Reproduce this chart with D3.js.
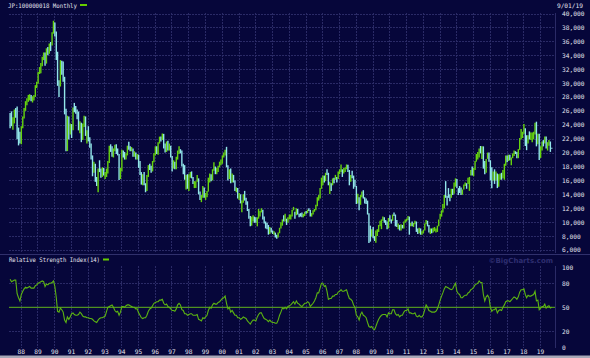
<!DOCTYPE html>
<html><head><meta charset="utf-8">
<script src="https://cdn.jsdelivr.net/npm/d3@7"></script>
<style>html,body{margin:0;padding:0;background:#06063a;}svg{display:block}</style>
</head><body><svg id="c" width="590" height="358"></svg>
<script>
// ---- data (monthly bars, May 1987 .. Sep 2019) ----
const startYear = 1987, startMonth = 4; // May 1987
const firstOpen = 25300;
const priceClose = [
24900,24176,24488,26029,26011,23329,22687,21564,
23719,24901,26260,27256,27418,27769,28095,27911,27923,28029,29579,30159,
31581,31985,32839,33714,34266,32948,34954,34431,35636,35549,37268,38916,
37189,34592,29980,29585,33131,31940,31036,25978,20984,25194,22455,23849,
23293,26409,26292,26111,25790,23291,24121,22336,23916,25222,22687,22984,
22023,21339,19346,17391,18348,15952,15910,17555,17399,16767,17684,16925,
17024,17098,18591,20919,20552,19591,20380,21027,20106,19703,16408,17417,
20229,19997,19112,19725,20974,20644,20449,20629,19564,19990,19076,19723,
18650,17053,16140,16807,15437,14517,16678,18117,17913,17655,18744,19868,
20813,20125,21407,22041,21956,22531,20693,20167,21556,20467,21020,19361,
18330,18557,18003,19151,20069,20605,20331,18229,17888,16459,16636,15259,
16628,16831,16527,15641,15671,15831,16379,14108,13406,13564,14883,13842,
13859,14368,15837,16702,16112,17530,17862,17437,17605,17942,18558,18934,
19540,19960,20337,17974,16332,17411,15727,16861,15747,14539,14649,13786,
13844,12884,12999,13934,13262,12969,11861,10714,9775,10366,10697,10543,
9998,10588,11025,11493,11764,10622,9878,9619,9383,8640,9216,8579,
8340,8363,7973,7831,8425,9083,9563,10344,10219,10560,10101,10677,
10784,11042,11715,11762,11236,11859,11326,11082,10824,10771,11013,11489,
11388,11741,11669,11009,11277,11584,11900,12414,13574,13607,14872,16111,
16650,16205,17060,16906,15468,15505,15457,16141,16128,16399,16274,17226,
17383,17604,17288,17400,17876,18138,17249,16569,16786,16737,15681,15308,
13592,13603,12526,13850,14339,13481,13377,13073,11260,8577,8512,8860,
7994,7568,8110,8828,9523,9958,10357,10493,10133,10035,9346,10546,
10198,10126,11090,11057,9768,9383,9537,8824,9369,9202,9937,10229,
10238,10624,9755,9850,9694,9816,9833,8955,8700,8988,8435,8455,
8803,9723,10084,9521,8543,9007,8695,8840,8870,8928,9446,10395,
11139,11559,12398,13861,13775,13677,13668,13389,14456,14328,15662,16291,
14915,14841,14828,14304,14632,15162,15621,15425,16174,16414,17460,17451,
17674,18798,19207,19520,20563,20236,20585,18890,17388,19083,19747,19034,
17518,16027,16759,16666,17235,15576,16569,16887,16450,17425,18308,19114,
19041,19119,18909,19197,19651,20033,19925,19646,20356,22012,22725,22765,
23098,22068,21454,22468,22202,22305,22554,22865,24120,21920,22351,20015,
20773,21385,21206,22259,20601,21276,21522,20704,20650
];
const priceHigh = [
25700,25929,25100,26200,26400,26646,23600,23000,
23800,25200,26400,27400,27800,28300,28400,28300,28100,28300,29700,30200,
31600,32300,32900,33800,34400,34400,35000,35200,35700,35900,37300,38957,
38712,37400,34500,30400,33300,33200,33100,30900,26300,25300,25200,24200,
24100,26500,27146,26700,26200,25900,24500,24300,24200,25300,25200,23200,
23800,22200,21300,19600,18700,18400,16500,17700,18900,17700,17900,17800,
17200,17700,18800,21000,21200,20900,20600,21148,21200,20600,19800,17800,
20400,20300,20100,19900,21000,21552,20900,20800,20600,20200,20000,19800,
19700,18800,17200,16900,17200,15600,16800,18200,18400,18100,18800,19900,
20900,20900,21500,22300,22300,22750,22700,21300,21600,21700,21300,21000,
19500,18900,18700,19400,20300,20910,20500,20300,18400,18200,16800,16900,
16900,17200,17300,16500,15900,15900,16800,16300,14400,13900,15200,15000,
14200,14500,16400,17000,16900,17600,18600,18000,17800,18100,18700,19000,
19600,20000,20400,20833,18200,17600,17700,17000,16800,16000,15000,14900,
14200,14000,13100,14000,14500,13500,13000,11900,10900,10800,11000,10800,
10700,10700,11900,11600,12000,11800,10800,10100,9900,9600,9300,9200,
8800,8700,8500,8200,8500,9200,10000,10400,11000,11200,10500,10700,
11100,11100,11800,12200,11500,12000,11900,11200,11300,11400,11200,11500,
11600,11800,12000,11800,11300,11700,11900,12500,13600,13900,14900,16400,
16700,16700,17100,17600,17100,15800,15600,16300,16400,16800,16500,17300,
17600,18300,17600,17800,17900,18300,18262,17500,16800,17400,16700,16100,
15200,14100,13600,13900,14400,14600,13600,13400,13100,11300,9500,9000,
9300,8000,8800,9000,9600,10200,10400,10800,10700,10300,10100,10600,
11000,10400,11100,11400,11100,10300,9800,9600,9700,9600,10100,10400,
10500,10900,10800,9900,10100,9900,10200,10100,9100,9200,9100,8700,
8900,9800,10300,10200,9600,9100,9100,9200,9300,9100,9500,10400,
11200,11700,12600,13900,15900,13800,14900,14000,14800,14800,15700,16300,
16200,14900,15200,15000,14700,15400,15700,15600,16400,16500,17500,18000,
17800,18800,19800,20100,20600,20953,20900,20900,18800,19100,20000,20000,
18900,17900,17300,17600,17300,17000,16900,17000,17100,17500,18400,19600,
19600,19700,19700,19300,19900,20300,20200,20100,20500,22100,23380,23000,
24129,23500,22500,22500,23050,22900,22900,23000,24300,24448,22700,22700,
20900,21600,21800,22300,22300,21500,21800,21600,20700
];
const priceLow = [
23500,23800,23300,24200,25000,21910,21036,21300,
21200,23500,24900,26000,26800,27300,27500,27400,27200,27500,28000,29300,
29900,31300,31400,32400,33300,32500,32800,34000,34200,34600,35400,37100,
36700,33300,29600,28000,29500,31200,30200,25500,20200,20222,21900,22600,
22100,23200,25800,25600,24800,23200,22800,21500,21800,23700,22400,21300,
21600,20700,19000,16600,17100,15800,15200,14309,17200,16400,16500,16700,
16200,16500,17000,18500,20100,19400,19300,20200,19800,19600,16078,16200,
17300,19300,19000,19000,19600,20400,20200,20200,19400,19400,19000,19000,
17800,16800,15400,15300,15300,14300,14485,16500,17500,17100,17300,18600,
19600,19800,19700,21300,21600,21800,20600,20000,20100,20300,20300,19300,
17300,17700,17600,17600,19000,19800,19900,18000,16900,16100,14700,14800,
14500,16400,16300,15500,14900,14900,15800,14000,13200,12879,13500,13500,
13200,13600,14400,15700,15900,16000,17400,16900,16900,17200,17900,18200,
18400,19300,19600,17900,16000,16200,15600,15700,15700,14500,14300,13400,
13200,12700,11434,12800,13100,12500,11600,10500,9400,9500,10100,9900,
9900,9400,10500,10800,11400,10400,9800,9100,9000,8200,8300,8500,
8300,8200,7800,7600,7800,8400,9100,9500,10100,10100,9600,9900,
10400,10400,10800,11700,10500,11000,11100,10700,10800,10700,10700,10900,
11200,11300,11600,10800,10800,11100,11500,11700,12300,13100,13400,14800,
15300,15700,15900,16800,15300,14045,14500,15300,15600,16100,15700,16200,
16900,17200,16500,17000,17200,17600,17200,15300,15800,16300,14800,15100,
12600,12700,11700,12500,13600,13400,12700,12600,11100,6994,7200,7900,
7700,7300,7054,8000,8600,9400,9000,10200,9900,9600,9000,9100,
10100,9800,10200,10900,9400,9300,9000,8800,8800,9100,9100,9900,
10100,10300,8200,9400,9400,9300,9700,8600,8300,8400,8200,8200,
8400,8800,9700,9400,8500,8300,8400,8500,8700,8500,8600,9400,
10400,10800,11400,12000,13500,12400,13500,13000,13500,13900,14100,15100,
14900,13900,14200,13900,13950,14700,15200,14800,15500,14500,16700,16700,
16600,17500,18700,19000,19300,19900,19100,17700,16900,17100,19100,18700,
16000,14865,16000,15500,16000,14900,15100,16100,16100,16300,16100,18100,
18600,18800,18900,18200,19200,19500,19800,19200,19200,20400,21900,22100,
22700,20950,20350,21300,21900,21800,21500,21900,22600,20900,21200,18948,
19241,20300,20900,21300,20600,20300,21000,20100,20550
];
const rsiValues = [
85,82,83,84,84,67,62,58,
66,70,73,75,74,75,76,74,74,74,77,78,
80,81,82,83,82,76,79,78,80,80,81,83,
76,62,45,44,49,47,44,34,31,38,35,38,
42,43,41,40,40,41,44,42,39,38,38,37,
37,36,36,35,33,32,31,34,36,37,37,38,
39,45,50,51,52,53,50,46,44,45,40,44,
51,51,50,52,53,53,52,51,50,50,48,48,
43,40,37,36,37,37,40,45,48,49,52,55,
56,57,57,59,59,60,55,53,54,51,50,48,
46,46,45,48,53,55,53,47,46,42,42,40,
41,42,42,40,40,40,41,35,34,33,37,36,
38,40,46,50,49,53,55,54,54,56,57,59,
61,62,64,55,48,50,44,46,43,40,40,37,
37,35,36,38,37,36,33,31,29,32,34,34,
33,38,41,43,43,39,36,35,34,32,34,32,
31,31,30,30,34,40,44,49,48,50,48,51,
52,53,55,57,54,58,55,54,52,51,53,55,
55,57,56,51,53,55,58,62,68,68,74,80,
80,76,77,70,60,61,61,64,64,66,66,69,
70,72,70,70,71,72,66,61,60,58,53,50,
40,38,34,41,44,40,39,37,31,26,25,26,
23,22,26,31,35,38,40,41,41,41,38,43,
42,42,47,47,42,40,41,38,40,40,44,46,
46,48,43,43,42,42,43,39,38,40,38,38,
41,47,53,50,46,45,44,44,44,45,48,53,
59,64,68,73,76,75,74,73,72,73,77,80,
70,67,66,62,62,64,65,65,68,69,72,73,
75,78,79,80,83,81,81,66,58,63,65,62,
50,45,47,47,49,43,46,47,46,50,53,57,
58,58,57,59,61,63,62,60,63,69,72,72,
73,66,62,65,64,64,65,66,70,58,59,47,
49,51,51,54,49,51,52,49,50
];
const yearTicks = [1988,1989,1990,1991,1992,1993,1994,1995,1996,1997,1998,1999,2000,2001,2002,2003,2004,2005,2006,2007,2008,2009,2010,2011,2012,2013,2014,2015,2016,2017,2018,2019];
const priceTicks = [6000,8000,10000,12000,14000,16000,18000,20000,22000,24000,26000,28000,30000,32000,34000,36000,38000,40000];
const rsiTicks = [0,20,50,80,100];
const rsiGrid = [20,80];
const titleMain = "JP:100000018 Monthly";
const titleRsi = "Relative Strength Index(14)";
const dateLabel = "9/01/19";

// ---- layout ----
const svg = d3.select("#c");
const W = 590, H = 358;
const L = 9, R = 555, T1 = 13, B1 = 253, T2 = 266, B2 = 348;
const FONT = "'DejaVu Sans Mono', monospace";
const FS = "6.2px";
const TXT = "#e4e4ee", GRID = "#2a2a66";

const bars = priceClose.map((c, i) => ({
  date: new Date(startYear, startMonth + i, 15),
  open: i === 0 ? firstOpen : priceClose[i - 1],
  high: priceHigh[i], low: priceLow[i], close: c, rsi: rsiValues[i]
}));

const x = d3.scaleTime().domain([new Date(1988,0,1), new Date(2019,0,1)]).range([20.7, 540]);
const y = d3.scaleLinear().domain([6000, 40000]).range([250, 13.5]);
const yr = d3.scaleLinear().domain([0, 100]).range([347.3, 267.3]);
const yearDates = yearTicks.map(v => new Date(v, 0, 1));

svg.append("rect").attr("width", W).attr("height", H).attr("fill", "#06063a");

const defs = svg.append("defs");
defs.append("clipPath").attr("id","cp1").append("rect").attr("x",L).attr("y",T1).attr("width",R-L).attr("height",B1-T1);
defs.append("clipPath").attr("id","cp2").append("rect").attr("x",L).attr("y",T2-2).attr("width",R-L).attr("height",B2-T2+2);

// grids
const g = svg.append("g").attr("stroke", GRID).attr("stroke-width", 1).attr("stroke-dasharray", "2,1");
g.selectAll(".hp").data(priceTicks).join("line")
  .attr("x1", L).attr("x2", R).attr("y1", d => Math.round(y(d)) + 0.5).attr("y2", d => Math.round(y(d)) + 0.5);
g.selectAll(".vp").data(yearDates).join("line")
  .attr("x1", d => Math.round(x(d)) + 0.5).attr("x2", d => Math.round(x(d)) + 0.5).attr("y1", T1).attr("y2", B1);
g.selectAll(".hr").data(rsiGrid).join("line")
  .attr("x1", L).attr("x2", R).attr("y1", d => Math.round(yr(d)) + 0.5).attr("y2", d => Math.round(yr(d)) + 0.5);
g.selectAll(".vr").data(yearDates).join("line")
  .attr("x1", d => Math.round(x(d)) + 0.5).attr("x2", d => Math.round(x(d)) + 0.5).attr("y1", T2).attr("y2", B2);
// right borders
svg.append("line").attr("x1",R+0.5).attr("x2",R+0.5).attr("y1",T1).attr("y2",B1).attr("stroke",GRID);
svg.append("line").attr("x1",R+0.5).attr("x2",R+0.5).attr("y1",T2).attr("y2",B2).attr("stroke",GRID);
// separator
svg.append("line").attr("x1",0).attr("x2",W).attr("y1",254.5).attr("y2",254.5).attr("stroke","#30306c");

// price bars
svg.append("g").attr("clip-path","url(#cp1)")
  .selectAll("line").data(bars).join("line")
  .attr("x1", d => x(d.date)).attr("x2", d => x(d.date))
  .attr("y1", d => y(d.high)).attr("y2", d => y(d.low))
  .attr("stroke", d => d.close >= d.open ? "#66d40e" : "#92e6ea")
  .attr("stroke-width", 1.4);

// RSI
svg.append("line").attr("x1",L).attr("x2",R).attr("y1",yr(50)).attr("y2",yr(50))
  .attr("stroke","#62b41c").attr("stroke-width",1);
svg.append("path").attr("clip-path","url(#cp2)").datum(bars)
  .attr("fill","none").attr("stroke","#5cb412").attr("stroke-width",1.1)
  .attr("d", d3.line().x(d => x(d.date)).y(d => yr(d.rsi)));

// axes
const ax1 = svg.append("g").attr("transform","translate(562,0)")
  .call(d3.axisRight(y).tickValues(priceTicks).tickFormat(d3.format(",")).tickSize(0).tickPadding(0));
const ax2 = svg.append("g").attr("transform","translate(562,0)")
  .call(d3.axisRight(yr).tickValues(rsiTicks).tickSize(0).tickPadding(0));
const ax3 = svg.append("g").attr("transform","translate(0,348)")
  .call(d3.axisBottom(x).tickValues(yearDates).tickFormat(d3.timeFormat("%y")).tickSize(0).tickPadding(2));
[ax1, ax2, ax3].forEach(a => {
  a.select(".domain").remove();
  a.selectAll("text").attr("fill", TXT).style("font-family", FONT).style("font-size", FS);
});

// titles
const txt = (s, xx, yy, anchor, len) => {
  const t = svg.append("text").text(s).attr("x", xx).attr("y", yy)
    .attr("text-anchor", anchor || "start").attr("fill", TXT).style("font-family", FONT).style("font-size", FS);
  if (len) t.attr("textLength", len).attr("lengthAdjust", "spacingAndGlyphs");
  return t;
};
txt(titleMain, 8, 8, "start", 69);
svg.append("rect").attr("x", 80).attr("y", 4).attr("width", 7).attr("height", 2).attr("fill", "#66cc00");
txt(dateLabel, 583, 8, "end");
txt(titleRsi, 9, 262, "start", 91);
svg.append("rect").attr("x", 103).attr("y", 258.5).attr("width", 6).attr("height", 2).attr("fill", "#66cc00");
svg.append("text").text("\u00a9BigCharts.com").attr("x", 553).attr("y", 262.5).attr("text-anchor","end")
  .attr("fill", "#2e2e70").style("font-family", "'DejaVu Sans', sans-serif").style("font-size", "7px").style("font-weight", "bold");

// bottom frame strip
svg.append("rect").attr("x", 0).attr("y", 355.5).attr("width", W).attr("height", 2.5).attr("fill", "#a8a8b8");
</script></body></html>
